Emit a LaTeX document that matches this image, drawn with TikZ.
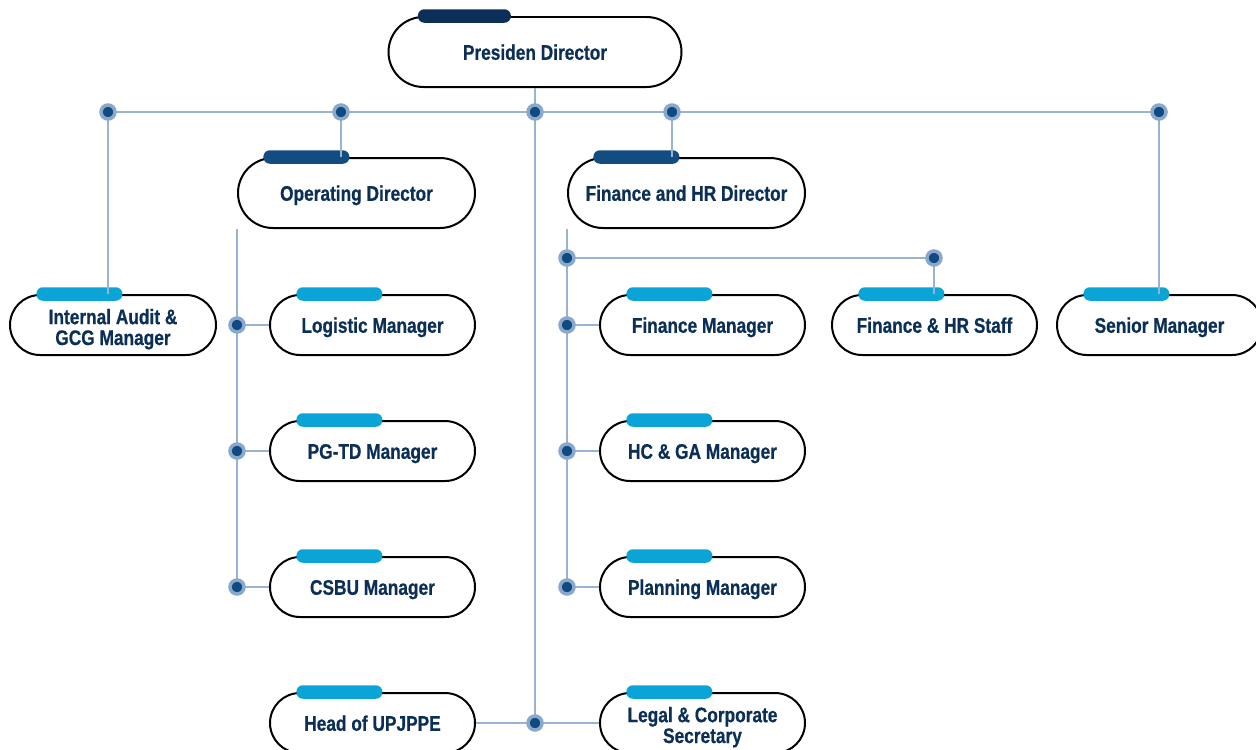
\documentclass[tikz,border=0pt]{standalone}
\usepackage{fontspec}
\setmainfont{Liberation Sans}[FakeStretch=0.82, BoldFeatures={FakeBold=0.6}]
\definecolor{navy}{HTML}{0B2F57}
\definecolor{tabnavy}{HTML}{0B2F57}
\definecolor{tabblue}{HTML}{134C80}
\definecolor{tabcyan}{HTML}{0AA5D6}
\definecolor{linkblue}{HTML}{9AB3D3}
\definecolor{ringblue}{HTML}{8AA7CC}
\definecolor{dotnavy}{HTML}{0F4A80}
% two-line box text, baseline on the last line
\newcommand{\twolines}[2]{\begin{tabular}[b]{@{}c@{}}#1\\#2\end{tabular}}

\begin{document}
\begin{tikzpicture}[
    box/.style={draw=black, line width=0.04cm, fill=white, rounded corners=0.6cm, minimum width=4.1cm, minimum height=1.2cm, text=navy, font=\bfseries\fontsize{12}{11.6}\selectfont, inner sep=0pt, text height=0.31cm, text depth=0pt},
    twobox/.style={box, text height=0.8cm},
    bigbox/.style={box, rounded corners=0.7cm, minimum width=4.74cm, minimum height=1.4cm},
    tab/.style={anchor=west, fill=tabcyan, rounded corners=0.13cm, minimum width=1.72cm, minimum height=0.27cm, inner sep=0pt},
    tabdark/.style={tab, fill=tabblue},
    link/.style={draw=linkblue, line width=0.03cm},
    dot/.style={circle, fill=dotnavy, draw=ringblue, line width=0.07cm, minimum size=0.28cm, inner sep=0pt}
]
\useasboundingbox (0,0) rectangle (25.12,-14.98);

% --- Directors ---
\node[bigbox, minimum width=5.86cm] (pd) at (10.70,-1.04) {Presiden Director};
\node[bigbox] (od) at (7.13,-3.86) {Operating Director};
\node[bigbox] (fd) at (13.73,-3.86) {Finance and HR Director};

% --- Managers ---
\node[twobox, minimum width=4.12cm] (ia) at (2.26,-6.5) {\twolines{Internal Audit \&}{GCG Manager}};
\node[box] (lm) at (7.45,-6.5) {Logistic Manager};
\node[box] (pg) at (7.45,-9.02) {PG-TD Manager};
\node[box] (cs) at (7.45,-11.74) {CSBU Manager};
\node[box] (hu) at (7.45,-14.46) {Head of UPJPPE};
\node[box] (fm) at (14.05,-6.5) {Finance Manager};
\node[box] (hc) at (14.05,-9.02) {HC \& GA Manager};
\node[box] (pm) at (14.05,-11.74) {Planning Manager};
\node[twobox] (lc) at (14.05,-14.46) {\twolines{Legal \& Corporate}{Secretary}};
\node[box] (fs) at (18.69,-6.5) {Finance \& HR Staff};
\node[box] (sm) at (23.19,-6.5) {Senior Manager};

% --- Tabs ---
\node[tab, fill=tabnavy, minimum width=1.86cm] (pd-tab) at ([xshift=0.6cm]pd.north west) {};
\node[tabdark] (od-tab) at ([xshift=0.52cm]od.north west) {};
\node[tabdark] (fd-tab) at ([xshift=0.52cm]fd.north west) {};
\foreach \n in {ia,lm,pg,cs,hu,fm,hc,pm,lc,fs,sm}
    \node[tab] (\n-tab) at ([xshift=0.54cm]\n.north west) {};

% --- Connectors ---
\coordinate (b-ia) at (2.16,-2.24);
\coordinate (b-od) at (6.82,-2.24);
\coordinate (b-pd) at (pd.south |- 0,-2.24);
\coordinate (b-fd) at (13.44,-2.24);
\coordinate (b-sm) at (23.18,-2.24);
\coordinate (b-hu) at (pd.south |- hu);
\coordinate (b-fs0) at (fd.west |- 0,-5.16);
\coordinate (b-fs) at (18.68,-5.16);

\draw[link] (b-ia) -- (b-sm);
\draw[link] (pd.south) -- (b-hu);
\draw[link] (b-ia) -- (b-ia |- ia.north);
\draw[link] (b-od) -- (od.north -| b-od);
\draw[link] (b-fd) -- (fd.north -| b-fd);
\draw[link] (b-sm) -- (b-sm |- sm.north);
\draw[link] (hu.east) -- (lc.west);

% operating branch
\draw[link] (od.west |- od.south) -- (od.west |- cs);
\foreach \n in {lm,pg,cs}
    \draw[link] (od.west |- \n) coordinate (b-\n) -- (\n.west);

% finance branch
\draw[link] (fd.west |- fd.south) -- (fd.west |- pm);
\foreach \n in {fm,hc,pm}
    \draw[link] (fd.west |- \n) coordinate (b-\n) -- (\n.west);
\draw[link] (b-fs0) -- (b-fs) -- (b-fs |- fs.north);

% dots on top of the lines
\foreach \n in {ia,od,pd,fd,sm,hu,fs0,fs,lm,pg,cs,fm,hc,pm}
    \node[dot] (d-\n) at (b-\n) {};
\end{tikzpicture}
\end{document}
